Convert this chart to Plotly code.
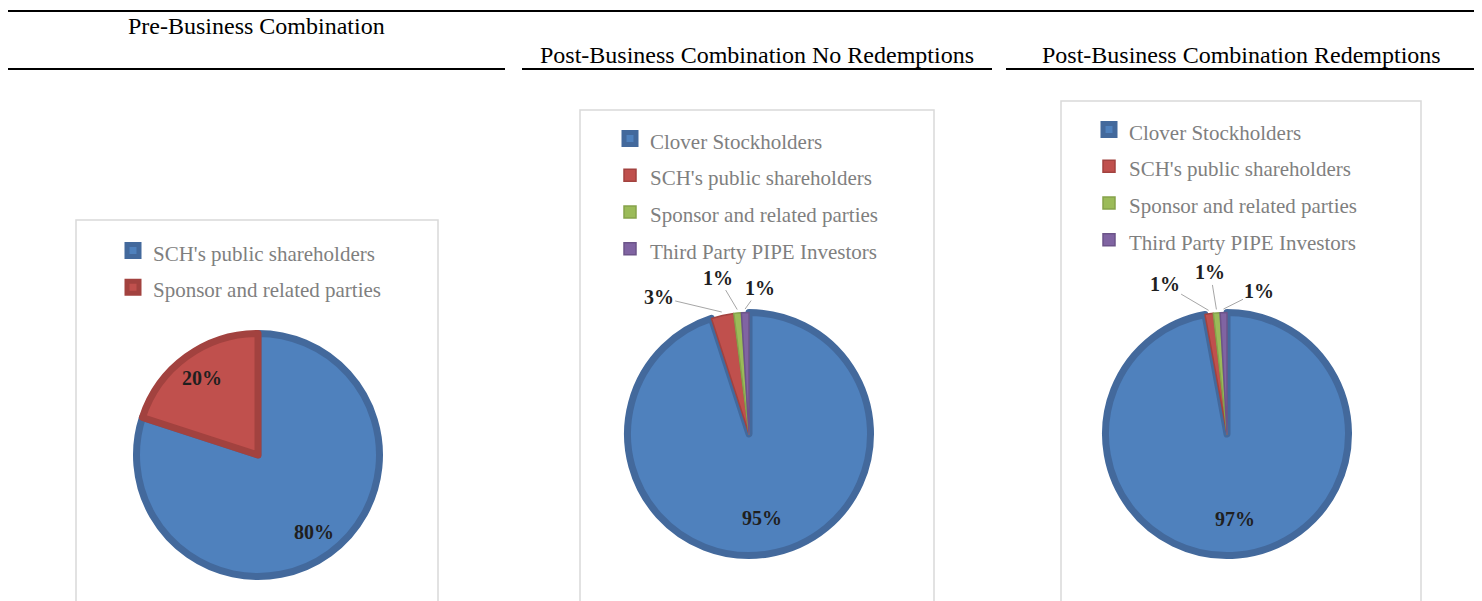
import math
import plotly.graph_objects as go

# ---- data ----
titles = ["Pre-Business Combination",
          "Post-Business Combination No Redemptions",
          "Post-Business Combination Redemptions"]

pre_labels = ["SCH's public shareholders", "Sponsor and related parties"]
pre_values = [80.0, 20.0]

post_labels = ["Clover Stockholders", "SCH's public shareholders",
               "Sponsor and related parties", "Third Party PIPE Investors"]
post_noredeem_values = [95.0, 3.0, 1.0, 1.0]
post_redeem_values = [97.1, 1.1, 0.9, 0.9]

# ---- styles / layout ----
W, H = 1482, 601
OFF = 8  # default page body margin
SERIF = "Liberation Serif, Times New Roman, serif"
FILL = {"Clover Stockholders": "#4F81BD", "SCH's public shareholders": "#C0504D",
        "Sponsor and related parties": "#9BBB59", "Third Party PIPE Investors": "#8064A2"}
EDGE = {"Clover Stockholders": "#43699C", "SCH's public shareholders": "#A2423F",
        "Sponsor and related parties": "#86A34B", "Third Party PIPE Investors": "#6C5489"}
PRE_FILL = {"SCH's public shareholders": "#4F81BD", "Sponsor and related parties": "#C0504D"}
PRE_EDGE = {"SCH's public shareholders": "#43699C", "Sponsor and related parties": "#A2423F"}
R_OUT = 125
BEVEL = 7


def fx(v):
    return (v - OFF) / W


def fy(v):
    return 1 - (v - OFF) / H


pies = [
    dict(labels=pre_labels, values=pre_values, fill=PRE_FILL, edge=PRE_EDGE,
         center=(258, 455), legend="legend", inside_r=0.76,
         outside_offsets={}),
    dict(labels=post_labels, values=post_noredeem_values, fill=FILL, edge=EDGE,
         center=(749, 434), legend="legend2", inside_r=0.68,
         outside_offsets={1: (-63, -15), 2: (-19, -32), 3: (15, -21)}),
    dict(labels=post_labels, values=post_redeem_values, fill=FILL, edge=EDGE,
         center=(1227, 434), legend="legend3", inside_r=0.68,
         outside_offsets={1: (-44, -26), 2: (-6, -37), 3: (36, -18)}),
]

fig = go.Figure()
annotations = []
pct_font = dict(family=SERIF, size=20, color="#1F1F1F", weight="bold")

for k, p in enumerate(pies):
    cx, cy = p["center"]
    r_dom = R_OUT - BEVEL / 2
    widths = [BEVEL if v >= 10 else 1.5 for v in p["values"]]
    spacer = " " * k  # keeps legend entries of each chart distinct
    fig.add_trace(go.Pie(
        labels=[f'<span style="font-size:{spacer}21px">{c}</span>' for c in p["labels"]],
        values=p["values"],
        sort=False,
        direction="clockwise",
        rotation=0,
        marker=dict(colors=[p["fill"][c] for c in p["labels"]],
                    line=dict(color=[p["edge"][c] for c in p["labels"]], width=widths)),
        textinfo="none",
        hoverinfo="percent",
        domain=dict(x=[fx(cx - r_dom), fx(cx + r_dom)],
                    y=[fy(cy + r_dom), fy(cy - r_dom)]),
        legend=p["legend"],
        showlegend=True,
    ))
    # percentage labels placed at each slice's mid-angle
    tot = sum(p["values"])
    cum = 0.0
    for i, v in enumerate(p["values"]):
        mid = (cum + v / 2) / tot * 2 * math.pi
        cum += v
        txt = f"{round(v / tot * 100):d}%"
        if i in p["outside_offsets"]:
            ex = cx + R_OUT * math.sin(mid)
            ey = cy - R_OUT * math.cos(mid)
            ax, ay = p["outside_offsets"][i]
            annotations.append(dict(text=txt, xref="paper", yref="paper",
                                    x=fx(ex), y=fy(ey), ax=ax, ay=ay,
                                    showarrow=True, arrowhead=0, arrowwidth=1,
                                    arrowcolor="#A6A6A6", standoff=0,
                                    font=pct_font))
        else:
            rr = p["inside_r"] * R_OUT
            tx = cx + rr * math.sin(mid)
            ty = cy - rr * math.cos(mid)
            annotations.append(dict(text=txt, xref="paper", yref="paper",
                                    x=fx(tx), y=fy(ty), xanchor="center",
                                    yanchor="middle", showarrow=False,
                                    font=pct_font))

leg_common = dict(font=dict(family=SERIF, size=26, color="#7F7F7F"),
                  bgcolor="rgba(0,0,0,0)", xanchor="left", yanchor="top",
                  itemclick=False, itemdoubleclick=False)

shapes = []
shapes.append(dict(type="line", xref="paper", yref="paper",
                   x0=fx(8), x1=fx(1477), y0=fy(11), y1=fy(11),
                   line=dict(color="black", width=2)))
for a, b in [(8, 505), (522, 992), (1006, 1477)]:
    shapes.append(dict(type="line", xref="paper", yref="paper",
                       x0=fx(a), x1=fx(b), y0=fy(69), y1=fy(69),
                       line=dict(color="black", width=2)))
for a, b, top in [(76, 438, 220), (580, 934, 110), (1061, 1421, 101)]:
    shapes.append(dict(type="rect", xref="paper", yref="paper",
                       x0=fx(a), x1=fx(b), y0=-0.2, y1=fy(top),
                       line=dict(color="#D9D9D9", width=1.5),
                       fillcolor="rgba(0,0,0,0)", layer="below"))

for t, tx, ty in [(titles[0], 256, 26), (titles[1], 757, 55), (titles[2], 1241, 55)]:
    annotations.append(dict(text=t, xref="paper", yref="paper",
                            x=fx(tx), y=fy(ty), xanchor="center", yanchor="middle",
                            showarrow=False,
                            font=dict(family=SERIF, size=24, color="black")))

fig.update_layout(
    width=W, height=H,
    margin=dict(l=0, r=0, t=0, b=0),
    paper_bgcolor="white", plot_bgcolor="white",
    shapes=shapes, annotations=annotations,
    legend=dict(x=fx(113), y=fy(227), **leg_common),
    legend2=dict(x=fx(610), y=fy(115), **leg_common),
    legend3=dict(x=fx(1089), y=fy(106), **leg_common),
)

fig.write_html("out.html")
